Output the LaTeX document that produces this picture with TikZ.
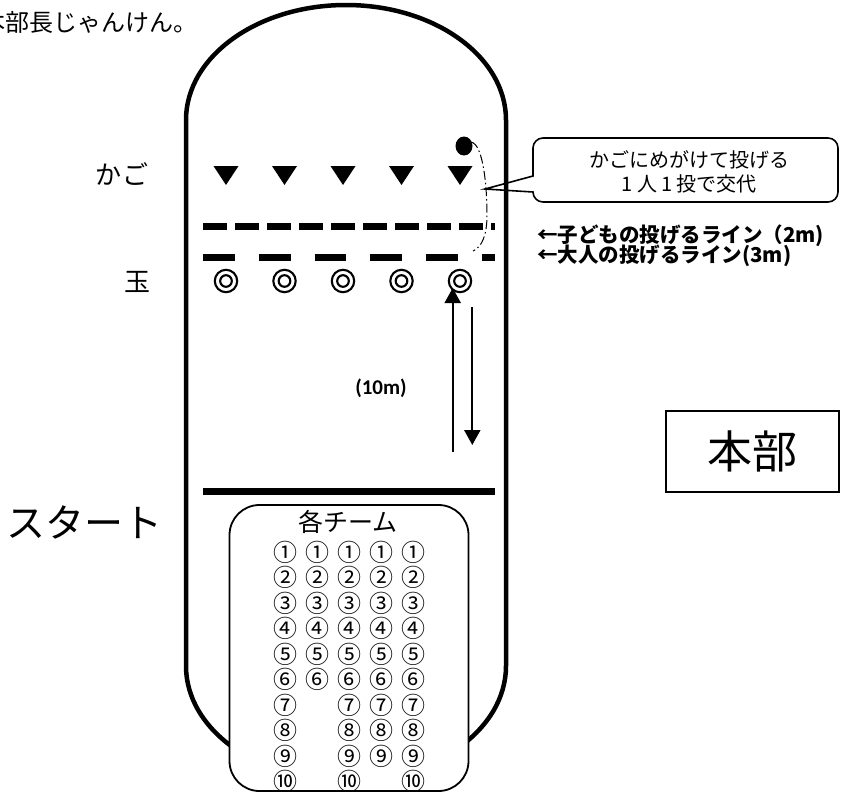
\documentclass[tikz,border=0pt]{standalone}
\usepackage{fontspec}
\newfontfamily\jp{Noto Sans CJK JP}
\newfontfamily\calb{Carlito}
\usetikzlibrary{arrows.meta}
\newcommand\jpsz[1]{\fontsize{#1pt}{#1pt}\selectfont}
\begin{document}
\begin{tikzpicture}[x=1pt,y=-1pt,
  every node/.style={inner sep=0pt, font=\jp},
  outline/.style={line width=4.5pt},
  thinbox/.style={draw, line width=1.8pt},
  ring/.style={line width=2.1pt},
  kline/.style={line width=7pt, dash pattern=on 23.7pt off 8.3pt},
  aline/.style={line width=7pt, dash pattern=on 31.7pt off 24.1pt},
  runarrow/.style={line width=2.2pt, -{Triangle[width=16pt,length=15pt]}},
  pathdash/.style={line width=1pt, dash pattern=on 9pt off 3pt on 1.5pt off 3pt},
  callout/.style={line width=1.6pt},
  num/.style={font=\jp\jpsz{24}}
]
\useasboundingbox (0,0) rectangle (846,793);
\fill[white] (0,0) rectangle (846,793);

% outer track
\draw[outline] (186,120) .. controls (186,56.5) and (257.6,5) .. (346,5)
  .. controls (434.4,5) and (506,56.5) .. (506,120) -- (506,666)
  .. controls (506,729.5) and (434.4,781) .. (346,781)
  .. controls (257.6,781) and (186,729.5) .. (186,666) -- cycle;

% top cut text
\node[anchor=west] (memo) at (-19,22.5) {\jpsz{24}本部長じゃんけん。};

% baskets
\foreach \x in {226,284.5,343,401.5,460}
  \fill ({\x-12.5},166) -- ({\x+12.5},166) -- (\x,185) -- cycle;
\node (kago) at (122,174) {\jpsz{26}か\hspace{2pt}ご};

% throwing lines
\draw[kline] (203,226) -- (495,226);
\draw[aline] (203,257) -- (495,257);

% balls
\foreach \x in {226,284.5,343,401.5,460} {
  \draw[ring] (\x,281) circle[radius=11.2pt];
  \draw[ring] (\x,281) circle[radius=5.8pt];
}
\node (tama) at (137.5,282) {\jpsz{26}玉};

% thrower and path
\fill (464,146) ellipse[x radius=8.5pt, y radius=9.5pt];
\coordinate (p0) at (471,142);
\coordinate (p1) at (487,215);
\coordinate (p2) at (473,251);
\draw[pathdash] (p0) .. controls (483,144) and (487,185) .. (p1)
  .. controls (487,235) and (482,247) .. (p2);

% callout
\coordinate (tip) at (485,189);
\draw[callout] (tip) -- (533,176) [rounded corners=10pt] -- (533,138) -- (838,138) -- (838,202) -- (533,202) [sharp corners] -- (533,192) -- cycle;
\node (c1) at (689,160) {\jpsz{20}かごにめがけて投げる};
\node (c2) at (689,184) {\jpsz{20}1\hspace{4pt}人\hspace{4pt}1\hspace{4pt}投で交代};

\node[anchor=west] (kodomo) at (537,236) {\jpsz{20.5}\bfseries ←子どもの投げるライン（2m)};
\node[anchor=west] (otona) at (537,255.5) {\jpsz{20.5}\bfseries ←大人の投げるライン(3m)};

% run arrows
\coordinate (u0) at (452.7,452);
\coordinate (u1) at (452.7,288);
\coordinate (d0) at (472.3,307);
\coordinate (d1) at (472.3,445);
\draw[runarrow] (u0) -- (u1);
\draw[runarrow] (d0) -- (d1);
\node[font=\calb\bfseries\jpsz{21}] (ten) at (381,388) {(10m)};

% start line
\draw[line width=7pt] (203,491) -- (495,491);
\node (start) at (84,522) {\jpsz{39}スタート};

% headquarters
\node[thinbox, minimum width=173pt, minimum height=81pt] (honbu) at (752.5,451.5) {\jpsz{45}本部};

% teams box
\draw[thinbox, fill=white, rounded corners=30pt] (229.5,505) rectangle (468.5,791);
\node (kaku) at (348,521.5) {\jpsz{25}各チーム};
\foreach \x/\col in {285/1,317/2,349/3,381/4,413/5} {
  \foreach \n [count=\r from 0] in {①,②,③,④,⑤,⑥,⑦,⑧,⑨,⑩} {
    \pgfmathtruncatemacro\show{(\col==2 && \r>5) || (\col==4 && \r>8) ? 0 : 1}
    \ifnum\show=1
      \node[num] (n\col-\r) at (\x,{552+25.5*\r}) {\n};
    \fi
  }
}
\end{tikzpicture}
\end{document}
